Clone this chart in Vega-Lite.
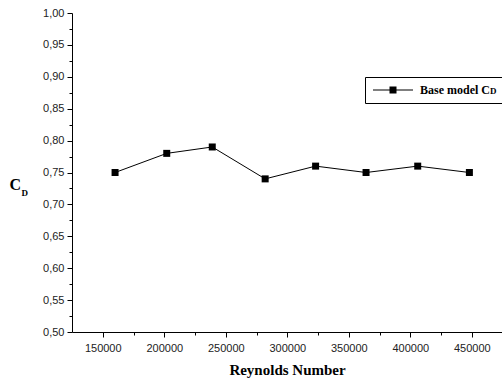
{
  "$schema": "https://vega.github.io/schema/vega-lite/v6.json",
  "width": 430,
  "height": 319,
  "autosize": {"type": "none"},
  "padding": {"left": 72, "top": 13, "right": 0, "bottom": 57},
  "background": "white",
  "config": {
    "view": {"stroke": null},
    "axis": {
      "grid": false,
      "domainColor": "black",
      "tickColor": "black",
      "labelColor": "#222222",
      "labelFont": "Liberation Sans",
      "labelFontSize": 11,
      "titleFont": "Liberation Serif",
      "titleFontWeight": "bold",
      "titleColor": "black"
    }
  },
  "data": {
    "values": [
      {"re": 160000, "cd": 0.75, "series": "Base model C"},
      {"re": 202000, "cd": 0.78, "series": "Base model C"},
      {"re": 239000, "cd": 0.79, "series": "Base model C"},
      {"re": 282000, "cd": 0.74, "series": "Base model C"},
      {"re": 323000, "cd": 0.76, "series": "Base model C"},
      {"re": 364000, "cd": 0.75, "series": "Base model C"},
      {"re": 406000, "cd": 0.76, "series": "Base model C"},
      {"re": 448000, "cd": 0.75, "series": "Base model C"}
    ]
  },
  "layer": [
    {
      "mark": {"type": "line", "color": "black", "strokeWidth": 1},
      "encoding": {
        "x": {
          "field": "re", "type": "quantitative",
          "scale": {"domain": [125000, 474500], "nice": false, "zero": false},
          "axis": {
            "values": [150000, 200000, 250000, 300000, 350000, 400000, 450000],
            "format": "d",
            "tickSize": 5,
            "labelPadding": 5,
            "title": "Reynolds Number",
            "titleFontSize": 15,
            "titlePadding": 9
          }
        },
        "y": {
          "field": "cd", "type": "quantitative",
          "scale": {"domain": [0.5, 1.0], "nice": false, "zero": false},
          "axis": {
            "values": [0.5, 0.55, 0.6, 0.65, 0.7, 0.75, 0.8, 0.85, 0.9, 0.95, 1.0],
            "labelExpr": "replace(format(datum.value, '.2f'), '.', ',')",
            "tickSize": 5,
            "labelPadding": 3,
            "title": "C",
            "titleFontSize": 16,
            "titleAngle": 0,
            "titleAlign": "left",
            "titleBaseline": "alphabetic",
            "titleX": -63,
            "titleY": 176
          }
        }
      }
    },
    {
      "mark": {"type": "point", "shape": "square", "filled": true, "size": 49, "opacity": 1},
      "encoding": {
        "x": {
          "field": "re", "type": "quantitative",
          "axis": {
            "orient": "bottom",
            "values": [175000, 225000, 275000, 325000, 375000, 425000],
            "labels": false, "domain": false, "tickSize": 3, "title": null
          }
        },
        "y": {
          "field": "cd", "type": "quantitative",
          "axis": {
            "orient": "left",
            "values": [0.525, 0.575, 0.625, 0.675, 0.725, 0.775, 0.825, 0.875, 0.925, 0.975],
            "labels": false, "domain": false, "tickSize": 3,
            "title": "D",
            "titleFontSize": 9,
            "titleAngle": 0,
            "titleAlign": "left",
            "titleBaseline": "alphabetic",
            "titleX": -51,
            "titleY": 182
          }
        },
        "color": {
          "field": "series", "type": "nominal",
          "scale": {"range": ["black"]},
          "legend": {
            "orient": "none",
            "legendX": 293,
            "legendY": 64,
            "title": "D",
            "titleOrient": "right",
            "titleAnchor": "end",
            "titleAngle": 0,
            "titleBaseline": "bottom",
            "titleFont": "Liberation Serif",
            "titleFontWeight": "bold",
            "titleFontSize": 9,
            "titleColor": "black",
            "titlePadding": 0,
            "labelFont": "Liberation Serif",
            "labelFontWeight": "bold",
            "labelFontSize": 12,
            "labelColor": "black",
            "labelOffset": 1,
            "symbolType": "M-8,-0.1H0V0.1H-8Z M-4.7,-0.7H-3.3V0.7H-4.7Z",
            "symbolSize": 100,
            "symbolOffset": 35,
            "symbolStrokeWidth": 0,
            "symbolFillColor": "black",
            "strokeColor": "black",
            "padding": 7
          }
        }
      }
    }
  ],
  "resolve": {"axis": {"x": "independent", "y": "independent"}}
}
